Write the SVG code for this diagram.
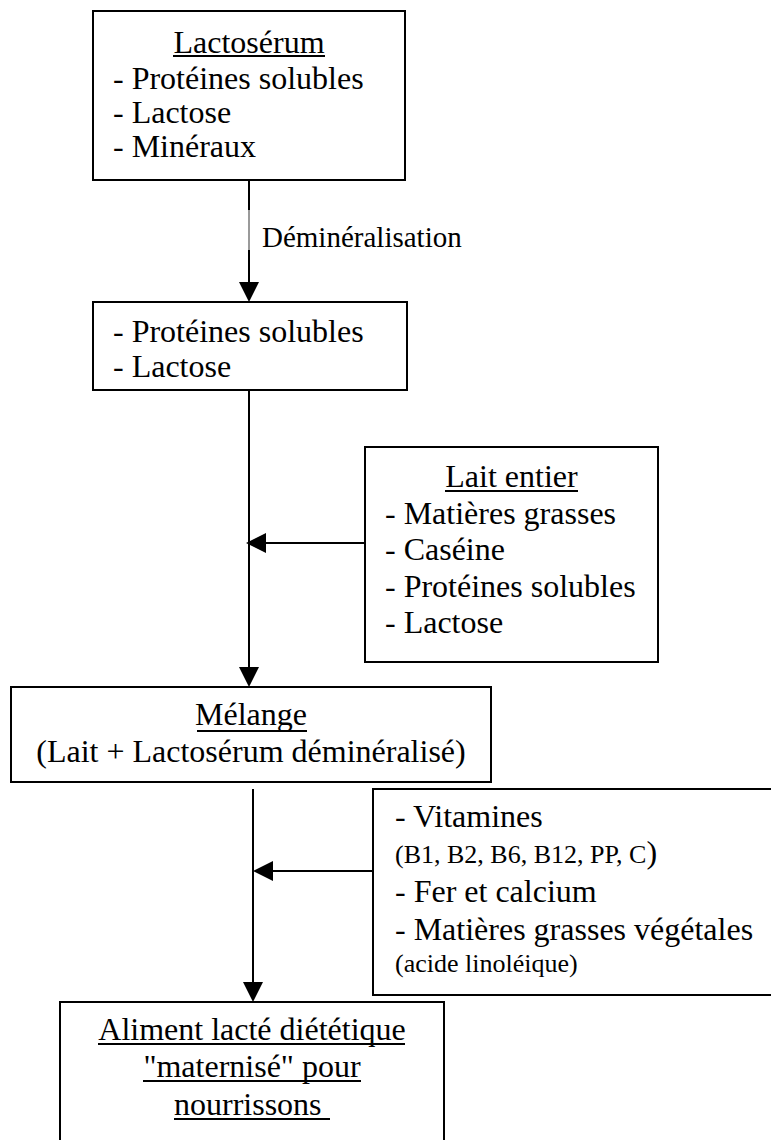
<svg xmlns="http://www.w3.org/2000/svg" width="771" height="1140" viewBox="0 0 771 1140">
  <style>
    .box { fill: #ffffff; stroke: #000000; stroke-width: 2; }
    .t { font-family: 'Liberation Serif', 'Times New Roman', Tinos, 'DejaVu Serif', serif; font-size: 32px; fill: #000000; }
    .s { font-size: 26px; }
    .lbl { font-family: 'Liberation Serif', 'Times New Roman', Tinos, 'DejaVu Serif', serif; font-size: 29px; fill: #000000; }
    .ul { stroke: #000000; stroke-width: 2; }
    .wire { stroke: #000000; stroke-width: 2; fill: none; }
    .head { fill: #000000; }
  </style>
  <rect width="771" height="1140" fill="#ffffff"/>

  <!-- connectors -->
  <g id="connectors">
    <line class="wire" x1="249" y1="180" x2="249" y2="284"/>
    <line x1="249" y1="210" x2="249" y2="250" stroke="#9a9a9a" stroke-width="2"/>
    <polygon class="head" points="239,282 259,282 249,302"/>
    <text class="lbl" x="262" y="247">Déminéralisation</text>

    <line class="wire" x1="249" y1="390" x2="249" y2="669"/>
    <polygon class="head" points="239,667 259,667 249,687"/>
    <line class="wire" x1="365" y1="543" x2="264" y2="543"/>
    <polygon class="head" points="266,533 266,553 246,543"/>

    <line class="wire" x1="253" y1="789" x2="253" y2="984"/>
    <polygon class="head" points="243,982 263,982 253,1002"/>
    <line class="wire" x1="373" y1="871" x2="271" y2="871"/>
    <polygon class="head" points="273,861 273,881 253,871"/>
  </g>

  <!-- whey -->
  <g id="lactoserum">
    <rect class="box" x="93" y="11" width="312" height="169"/>
    <text class="t" x="249" y="53" text-anchor="middle">Lactosérum</text>
    <line class="ul" x1="173" y1="56" x2="325" y2="56"/>
    <text class="t" x="113" y="89">- Protéines solubles</text>
    <text class="t" x="113" y="123">- Lactose</text>
    <text class="t" x="113" y="157">- Minéraux</text>
  </g>

  <!-- demineralised whey -->
  <g id="demineralise">
    <rect class="box" x="93" y="302" width="314" height="88"/>
    <text class="t" x="113" y="342">- Protéines solubles</text>
    <text class="t" x="113" y="377">- Lactose</text>
  </g>

  <!-- whole milk -->
  <g id="lait-entier">
    <rect class="box" x="365" y="447" width="293" height="215"/>
    <text class="t" x="511.5" y="487" text-anchor="middle">Lait entier</text>
    <line class="ul" x1="445" y1="491" x2="578" y2="491"/>
    <text class="t" x="385" y="524">- Matières grasses</text>
    <text class="t" x="385" y="560">- Caséine</text>
    <text class="t" x="385" y="597">- Protéines solubles</text>
    <text class="t" x="385" y="633">- Lactose</text>
  </g>

  <!-- blend -->
  <g id="melange">
    <rect class="box" x="11" y="687" width="480" height="95"/>
    <text class="t" x="251" y="725" text-anchor="middle">Mélange</text>
    <line class="ul" x1="197" y1="731" x2="307" y2="731"/>
    <text class="t" x="251" y="762" text-anchor="middle">(Lait + Lactosérum déminéralisé)</text>
  </g>

  <!-- additives -->
  <g id="additifs">
    <rect class="box" x="373" y="789" width="410" height="206"/>
    <text class="t" x="395" y="827">- Vitamines</text>
    <text class="t" x="395" y="863"><tspan class="s">(B1, B2, B6, B12, PP, C</tspan>)</text>
    <text class="t" x="395" y="902">- Fer et calcium</text>
    <text class="t" x="395" y="940">- Matières grasses végétales</text>
    <text class="t s" x="395" y="972">(acide linoléique)</text>
  </g>

  <!-- final product -->
  <g id="aliment">
    <path class="box" d="M60,1142 V1002 H444 V1142"/>
    <text class="t" x="252" y="1040" text-anchor="middle">Aliment lacté diététique</text>
    <line class="ul" x1="98" y1="1044" x2="405" y2="1044"/>
    <text class="t" x="252" y="1077" text-anchor="middle">"maternisé" pour</text>
    <line class="ul" x1="143" y1="1081" x2="361" y2="1081"/>
    <text class="t" x="174" y="1115">nourrissons</text>
    <line class="ul" x1="174" y1="1119" x2="330" y2="1119"/>
  </g>
</svg>
